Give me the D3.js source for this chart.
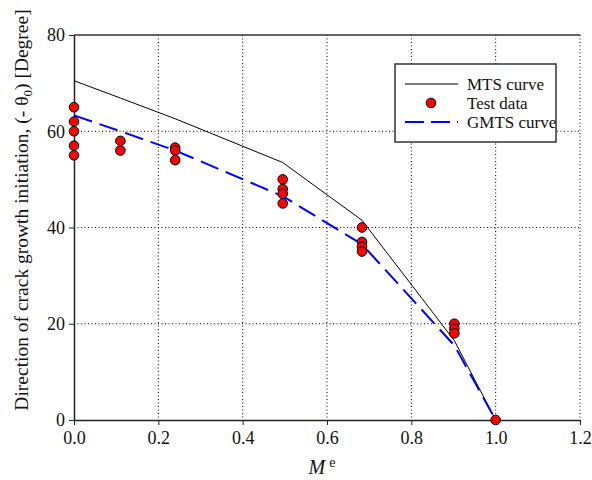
<!DOCTYPE html>
<html>
<head>
<meta charset="utf-8">
<script src="https://cdnjs.cloudflare.com/ajax/libs/d3/7.8.5/d3.min.js"></script>
<style>
  body { margin: 0; background: #fff; }
</style>
</head>
<body>
<div id="chart"></div>
<script>
// curve abscissae (M^e) and angles in degrees
var curveX = [0, 0.11, 0.24, 0.495, 0.683, 0.902, 1.0];
var mtsY   = [70.5, 66.9, 62.6, 53.5, 41.5, 16.5, 0];
var gmtsY  = [63.3, 60, 56, 46.5, 36.5, 15.5, 0];

// test data
var testX = [0, 0, 0, 0, 0, 0.11, 0.11, 0.24, 0.24, 0.24,
             0.495, 0.495, 0.495, 0.495, 0.683, 0.683, 0.683, 0.683,
             0.902, 0.902, 0.902, 1.0];
var testY = [65, 62, 60, 57, 55, 58, 56, 56.6, 56, 54,
             50, 48, 47, 45, 40, 37, 36, 35,
             20, 19, 18, 0];

var xTicks = [0, 0.2, 0.4, 0.6, 0.8, 1.0, 1.2];
var yTicks = [0, 20, 40, 60, 80];

var serif = '"Liberation Serif", "Times New Roman", Times, serif';

var svgWidth = 592, svgHeight = 480;
var margin = { top: 35, right: 12, bottom: 60, left: 74 };
var width = svgWidth - margin.left - margin.right;
var height = svgHeight - margin.top - margin.bottom;

var svg = d3.select('#chart')
  .append('svg')
  .attr('width', svgWidth)
  .attr('height', svgHeight)
  .attr('font-family', serif);

var chartGroup = svg.append('g')
  .attr('transform', `translate(${margin.left}, ${margin.top})`);

var xScale = d3.scaleLinear().domain([0, 1.2]).range([0, width]);
var yScale = d3.scaleLinear().domain([0, 80]).range([height, 0]);

// dotted grid
chartGroup.append('g')
  .selectAll('line')
  .data(xTicks.slice(1))
  .enter()
  .append('line')
  .attr('x1', d => xScale(d)).attr('x2', d => xScale(d))
  .attr('y1', 0).attr('y2', height)
  .attr('stroke', '#000').attr('stroke-width', 1)
  .attr('stroke-dasharray', '1,2.5');

chartGroup.append('g')
  .selectAll('line')
  .data([20, 40, 60])
  .enter()
  .append('line')
  .attr('x1', 0).attr('x2', width)
  .attr('y1', d => yScale(d)).attr('y2', d => yScale(d))
  .attr('stroke', '#000').attr('stroke-width', 1)
  .attr('stroke-dasharray', '1,2.5');

// top border
chartGroup.append('line')
  .attr('x1', 0).attr('x2', width)
  .attr('y1', 0).attr('y2', 0)
  .attr('stroke', '#333').attr('stroke-width', 1.5);

// axes
var bottomAxis = d3.axisBottom(xScale)
  .tickValues(xTicks)
  .tickFormat(d3.format('.1f'))
  .tickSizeInner(5).tickSizeOuter(0).tickPadding(6);
var leftAxis = d3.axisLeft(yScale)
  .tickValues(yTicks)
  .tickFormat(d3.format('d'))
  .tickSizeInner(5).tickSizeOuter(0).tickPadding(4);

var xAxis = chartGroup.append('g')
  .attr('transform', `translate(0, ${height})`)
  .call(bottomAxis);
var yAxis = chartGroup.append('g').call(leftAxis);

[xAxis, yAxis].forEach(function(ax) {
  ax.attr('font-family', serif).attr('font-size', 18);
  ax.select('.domain').attr('stroke', '#222').attr('stroke-width', 1.5);
  ax.selectAll('.tick line').attr('stroke', '#222');
  ax.selectAll('.tick text').attr('fill', '#111');
});

// curves
var line = d3.line()
  .x(d => xScale(d[0]))
  .y(d => yScale(d[1]));

chartGroup.append('path')
  .datum(curveX.map((x, i) => [x, mtsY[i]]))
  .attr('d', line)
  .attr('fill', 'none')
  .attr('stroke', '#000')
  .attr('stroke-width', 1);

chartGroup.append('path')
  .datum(curveX.map((x, i) => [x, gmtsY[i]]))
  .attr('d', line)
  .attr('fill', 'none')
  .attr('stroke', '#0000ff')
  .attr('stroke-width', 2)
  .attr('stroke-dasharray', '19,8');

// test points
chartGroup.selectAll('circle.test')
  .data(testX.map((x, i) => [x, testY[i]]))
  .enter()
  .append('circle')
  .attr('class', 'test')
  .attr('cx', d => xScale(d[0]))
  .attr('cy', d => yScale(d[1]))
  .attr('r', 4.8)
  .attr('fill', '#ff0000')
  .attr('stroke', '#000')
  .attr('stroke-width', 1);

// legend
var legend = svg.append('g').attr('transform', 'translate(395, 64)');
legend.append('rect')
  .attr('width', 161).attr('height', 78)
  .attr('fill', '#fff')
  .attr('stroke', '#333').attr('stroke-width', 1.5);

var legendRows = [
  { label: 'MTS curve', y: 20 },
  { label: 'Test data', y: 39 },
  { label: 'GMTS curve', y: 58 }
];
legend.append('line')
  .attr('x1', 10).attr('x2', 63).attr('y1', legendRows[0].y).attr('y2', legendRows[0].y)
  .attr('stroke', '#000').attr('stroke-width', 1);
legend.append('circle')
  .attr('cx', 36).attr('cy', legendRows[1].y).attr('r', 4.8)
  .attr('fill', '#ff0000').attr('stroke', '#000');
legend.append('line')
  .attr('x1', 10).attr('x2', 63).attr('y1', legendRows[2].y).attr('y2', legendRows[2].y)
  .attr('stroke', '#0000ff').attr('stroke-width', 2)
  .attr('stroke-dasharray', '19,7');
legend.selectAll('text.lbl')
  .data(legendRows)
  .enter()
  .append('text')
  .attr('class', 'lbl')
  .attr('x', 72)
  .attr('y', d => d.y)
  .attr('dy', '0.35em')
  .attr('font-size', 17)
  .attr('fill', '#111')
  .text(d => d.label);

// x axis title
var xTitle = svg.append('text')
  .attr('x', 322)
  .attr('y', 474)
  .attr('text-anchor', 'middle')
  .attr('font-size', 20)
  .attr('fill', '#111');
xTitle.append('tspan').attr('font-style', 'italic').text('M');
xTitle.append('tspan').attr('dx', 4).attr('dy', -7).attr('font-size', 14).text('e');

// y axis title
var yTitle = svg.append('text')
  .attr('transform', 'translate(28, 210) rotate(-90)')
  .attr('text-anchor', 'middle')
  .attr('font-size', 19.5)
  .attr('fill', '#111');
yTitle.append('tspan').text('Direction of crack growth initiation, (- \u03b8');
yTitle.append('tspan').attr('dy', 4).attr('font-size', 13).text('0');
yTitle.append('tspan').attr('dy', -4).text(') [Degree]');
</script>
</body>
</html>
